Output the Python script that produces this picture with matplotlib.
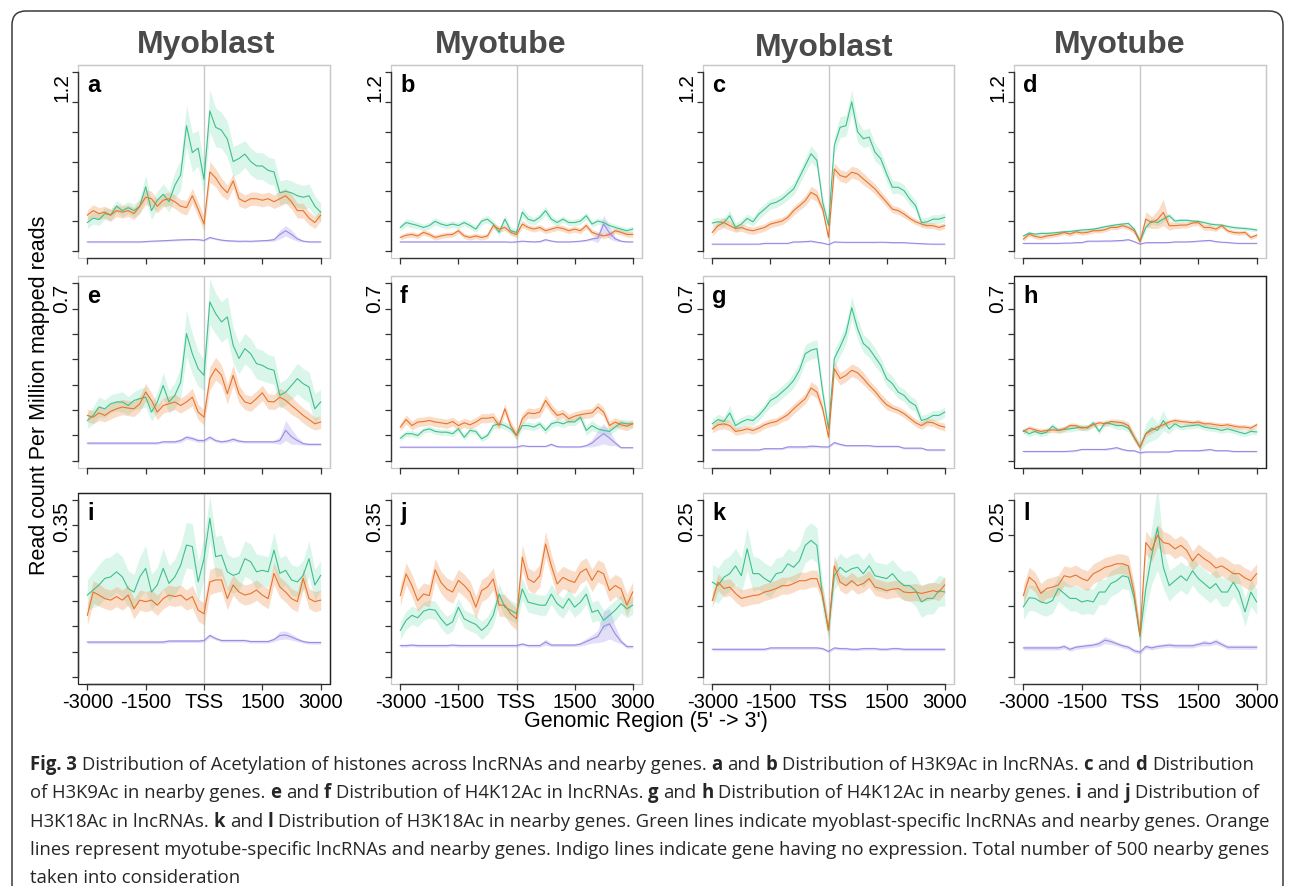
import numpy as np
import matplotlib
matplotlib.use("Agg")
import matplotlib.pyplot as plt
from matplotlib.patches import FancyBboxPatch, Rectangle
from matplotlib.transforms import IdentityTransform
from matplotlib import font_manager as fm

plt.rcParams['font.family'] = ['Liberation Sans', 'DejaVu Sans']

# ---------------- data ----------------
X = np.linspace(-3000, 3000, 41)
XTICKS = [-3000, -1500, 0, 1500, 3000]
XTICKLABELS = ['-3000', '-1500', 'TSS', '1500', '3000']
COL_TITLES = ['Myoblast', 'Myotube', 'Myoblast', 'Myotube']
LETTERS = list('abcdefghijkl')
YTOP = [1.2, 1.2, 1.2, 1.2, 0.7, 0.7, 0.7, 0.7, 0.35, 0.35, 0.25, 0.25]
YSTEP = [0.2, 0.2, 0.2, 0.2, 0.1, 0.1, 0.1, 0.1, 0.05, 0.05, 0.05, 0.05]

# panel a
G_a = [0.19,0.22,0.21,0.25,0.24,0.30,0.27,0.29,0.27,0.30,0.43,0.27,0.34,0.38,0.33,0.44,0.51,0.84,0.66,0.69,0.48,0.94,0.83,0.81,0.75,0.60,0.62,0.65,0.60,0.57,0.57,0.54,0.53,0.39,0.40,0.39,0.37,0.36,0.37,0.30,0.26]
O_a = [0.24,0.27,0.25,0.26,0.24,0.27,0.26,0.27,0.25,0.30,0.36,0.35,0.30,0.34,0.35,0.33,0.30,0.29,0.37,0.28,0.18,0.53,0.49,0.43,0.39,0.47,0.35,0.33,0.35,0.35,0.34,0.35,0.33,0.35,0.37,0.33,0.27,0.27,0.22,0.19,0.24]
I_a = [0.06,0.06,0.06,0.06,0.06,0.06,0.06,0.06,0.06,0.06,0.062,0.065,0.066,0.068,0.07,0.072,0.074,0.075,0.076,0.075,0.07,0.09,0.08,0.072,0.068,0.066,0.064,0.065,0.064,0.066,0.068,0.07,0.075,0.11,0.135,0.11,0.08,0.065,0.06,0.06,0.06]
GB_a = [0.04,0.04,0.04,0.04,0.04,0.04,0.04,0.04,0.045,0.05,0.08,0.06,0.06,0.07,0.07,0.09,0.1,0.14,0.13,0.12,0.1,0.14,0.13,0.12,0.12,0.1,0.1,0.09,0.09,0.09,0.09,0.09,0.09,0.08,0.08,0.08,0.08,0.08,0.08,0.07,0.06]
OB_a = [0.035,0.04,0.04,0.04,0.04,0.04,0.04,0.04,0.04,0.045,0.05,0.05,0.045,0.045,0.045,0.045,0.045,0.05,0.05,0.05,0.05,0.07,0.06,0.06,0.05,0.05,0.05,0.045,0.045,0.045,0.045,0.045,0.045,0.05,0.05,0.05,0.05,0.05,0.045,0.04,0.04]
IB_a = [0.005,0.005,0.005,0.005,0.005,0.005,0.005,0.005,0.005,0.005,0.005,0.005,0.005,0.006,0.006,0.006,0.006,0.006,0.006,0.006,0.006,0.008,0.006,0.006,0.006,0.006,0.006,0.006,0.006,0.006,0.006,0.008,0.01,0.03,0.035,0.03,0.015,0.006,0.005,0.005,0.005]

# panel b
G_b = [0.157,0.19,0.18,0.17,0.157,0.17,0.198,0.18,0.17,0.18,0.17,0.19,0.17,0.146,0.20,0.213,0.18,0.124,0.213,0.135,0.124,0.26,0.213,0.20,0.225,0.27,0.213,0.19,0.213,0.19,0.19,0.20,0.236,0.18,0.20,0.19,0.17,0.157,0.146,0.135,0.146]
O_b = [0.09,0.105,0.11,0.10,0.124,0.11,0.09,0.10,0.108,0.11,0.135,0.10,0.09,0.10,0.09,0.10,0.17,0.146,0.157,0.124,0.11,0.18,0.157,0.146,0.157,0.135,0.146,0.157,0.15,0.135,0.146,0.135,0.17,0.124,0.11,0.10,0.11,0.135,0.124,0.11,0.11]
I_b = [0.06,0.06,0.06,0.06,0.06,0.06,0.06,0.06,0.06,0.06,0.06,0.06,0.06,0.06,0.06,0.06,0.06,0.06,0.06,0.058,0.06,0.065,0.062,0.06,0.062,0.075,0.066,0.06,0.06,0.06,0.062,0.065,0.07,0.08,0.085,0.18,0.12,0.08,0.065,0.06,0.06]
GB_b = [0.022,0.025,0.025,0.022,0.022,0.022,0.025,0.022,0.022,0.022,0.022,0.022,0.022,0.022,0.025,0.025,0.025,0.025,0.03,0.025,0.025,0.035,0.03,0.025,0.025,0.03,0.025,0.022,0.022,0.022,0.022,0.022,0.025,0.022,0.022,0.022,0.022,0.02,0.02,0.02,0.02]
OB_b = [0.015,0.018,0.018,0.018,0.018,0.018,0.018,0.018,0.018,0.018,0.018,0.018,0.018,0.018,0.018,0.018,0.02,0.02,0.02,0.02,0.02,0.025,0.02,0.02,0.02,0.02,0.02,0.02,0.02,0.02,0.02,0.02,0.02,0.02,0.02,0.018,0.018,0.018,0.018,0.018,0.018]
IB_b = [0.004,0.004,0.004,0.004,0.004,0.004,0.004,0.004,0.004,0.004,0.004,0.004,0.004,0.004,0.004,0.004,0.004,0.004,0.004,0.004,0.004,0.005,0.004,0.004,0.005,0.008,0.005,0.004,0.004,0.004,0.004,0.005,0.006,0.01,0.03,0.06,0.04,0.015,0.005,0.004,0.004]

# panel c
G_c = [0.187,0.195,0.19,0.236,0.157,0.18,0.218,0.195,0.247,0.28,0.315,0.326,0.348,0.382,0.416,0.494,0.573,0.652,0.607,0.326,0.17,0.708,0.83,0.84,1.0,0.80,0.753,0.764,0.663,0.618,0.517,0.427,0.427,0.404,0.348,0.303,0.19,0.195,0.213,0.213,0.225]
O_c = [0.124,0.169,0.19,0.169,0.15,0.157,0.142,0.135,0.146,0.157,0.18,0.19,0.20,0.225,0.27,0.303,0.337,0.393,0.37,0.28,0.09,0.55,0.506,0.494,0.528,0.517,0.483,0.45,0.416,0.37,0.326,0.28,0.27,0.247,0.218,0.195,0.18,0.169,0.169,0.157,0.169]
I_c = [0.045,0.045,0.045,0.045,0.045,0.045,0.045,0.045,0.045,0.05,0.05,0.05,0.05,0.05,0.06,0.06,0.062,0.065,0.058,0.052,0.042,0.06,0.058,0.057,0.057,0.057,0.057,0.057,0.057,0.058,0.057,0.055,0.055,0.055,0.052,0.05,0.048,0.046,0.045,0.045,0.045]
GB_c = [0.03,0.03,0.03,0.04,0.03,0.03,0.03,0.03,0.035,0.035,0.035,0.035,0.035,0.04,0.04,0.045,0.05,0.055,0.05,0.04,0.03,0.06,0.07,0.07,0.08,0.07,0.06,0.06,0.06,0.05,0.05,0.045,0.04,0.04,0.04,0.035,0.03,0.03,0.03,0.03,0.03]
OB_c = [0.025,0.03,0.035,0.03,0.025,0.025,0.025,0.025,0.025,0.025,0.025,0.025,0.025,0.025,0.03,0.03,0.035,0.04,0.04,0.03,0.02,0.04,0.04,0.04,0.04,0.04,0.04,0.035,0.035,0.03,0.03,0.025,0.025,0.025,0.02,0.02,0.02,0.02,0.02,0.02,0.02]
IB_c = [0.004,0.004,0.004,0.004,0.004,0.004,0.004,0.004,0.004,0.004,0.004,0.004,0.004,0.004,0.005,0.005,0.005,0.006,0.005,0.004,0.004,0.005,0.004,0.004,0.004,0.004,0.004,0.004,0.004,0.004,0.004,0.004,0.004,0.004,0.004,0.004,0.004,0.004,0.004,0.004,0.004]

# panel d
G_d = [0.10,0.12,0.112,0.117,0.117,0.12,0.124,0.128,0.13,0.135,0.14,0.142,0.146,0.153,0.162,0.169,0.175,0.18,0.184,0.146,0.067,0.157,0.20,0.19,0.213,0.236,0.20,0.205,0.205,0.20,0.198,0.19,0.18,0.175,0.173,0.164,0.157,0.153,0.15,0.146,0.14]
O_d = [0.079,0.112,0.097,0.09,0.10,0.105,0.112,0.124,0.112,0.128,0.12,0.124,0.135,0.135,0.142,0.157,0.157,0.169,0.157,0.135,0.06,0.213,0.19,0.21,0.258,0.169,0.169,0.173,0.173,0.187,0.19,0.157,0.157,0.146,0.169,0.135,0.124,0.12,0.124,0.09,0.105]
I_d = [0.05,0.05,0.05,0.05,0.05,0.05,0.05,0.052,0.052,0.055,0.055,0.065,0.065,0.065,0.066,0.066,0.068,0.07,0.075,0.062,0.045,0.055,0.055,0.055,0.055,0.056,0.06,0.06,0.06,0.062,0.065,0.068,0.07,0.062,0.058,0.056,0.052,0.05,0.05,0.05,0.05]
GB_d = [0.012,0.012,0.012,0.012,0.012,0.012,0.012,0.012,0.012,0.012,0.012,0.012,0.012,0.012,0.012,0.012,0.012,0.012,0.012,0.014,0.015,0.02,0.02,0.02,0.02,0.02,0.015,0.015,0.012,0.012,0.012,0.012,0.012,0.012,0.012,0.012,0.012,0.012,0.012,0.012,0.012]
OB_d = [0.015,0.015,0.015,0.015,0.015,0.015,0.015,0.015,0.015,0.015,0.015,0.015,0.015,0.015,0.015,0.015,0.015,0.015,0.015,0.02,0.02,0.05,0.04,0.06,0.09,0.03,0.02,0.02,0.02,0.02,0.02,0.02,0.02,0.015,0.015,0.015,0.015,0.015,0.015,0.015,0.015]
IB_d = [0.004,0.004,0.004,0.004,0.004,0.004,0.004,0.004,0.004,0.004,0.004,0.005,0.005,0.005,0.005,0.005,0.006,0.006,0.006,0.005,0.004,0.004,0.004,0.004,0.004,0.004,0.004,0.004,0.004,0.005,0.005,0.006,0.006,0.005,0.004,0.004,0.004,0.004,0.004,0.004,0.004]

# panel e
G_e = [0.159,0.179,0.212,0.205,0.225,0.232,0.232,0.218,0.238,0.245,0.251,0.192,0.232,0.297,0.232,0.258,0.31,0.501,0.422,0.363,0.337,0.626,0.58,0.547,0.567,0.455,0.403,0.442,0.422,0.383,0.376,0.363,0.357,0.258,0.271,0.297,0.324,0.304,0.291,0.205,0.232]
O_e = [0.179,0.172,0.189,0.179,0.195,0.205,0.212,0.208,0.205,0.225,0.271,0.238,0.192,0.218,0.225,0.232,0.218,0.232,0.251,0.192,0.172,0.324,0.363,0.337,0.264,0.337,0.264,0.232,0.225,0.245,0.268,0.234,0.232,0.251,0.238,0.218,0.199,0.179,0.163,0.146,0.153]
I_e = [0.07,0.07,0.07,0.07,0.07,0.07,0.07,0.07,0.07,0.07,0.07,0.07,0.07,0.075,0.075,0.075,0.08,0.093,0.088,0.08,0.08,0.093,0.08,0.075,0.078,0.085,0.078,0.075,0.075,0.075,0.075,0.075,0.075,0.08,0.12,0.095,0.08,0.068,0.065,0.065,0.065]
GB_e = [0.03,0.035,0.04,0.035,0.035,0.035,0.04,0.035,0.035,0.04,0.04,0.035,0.04,0.05,0.045,0.05,0.06,0.09,0.08,0.07,0.06,0.09,0.08,0.08,0.08,0.07,0.06,0.06,0.06,0.06,0.06,0.055,0.055,0.05,0.05,0.055,0.06,0.06,0.06,0.06,0.05]
OB_e = [0.025,0.025,0.03,0.025,0.03,0.03,0.03,0.03,0.03,0.03,0.035,0.03,0.03,0.03,0.03,0.03,0.03,0.03,0.035,0.03,0.03,0.045,0.045,0.04,0.04,0.04,0.035,0.03,0.03,0.03,0.03,0.03,0.03,0.035,0.035,0.035,0.03,0.03,0.03,0.025,0.025]
IB_e = [0.005,0.005,0.005,0.005,0.005,0.005,0.005,0.005,0.005,0.005,0.005,0.005,0.005,0.005,0.006,0.006,0.008,0.008,0.008,0.008,0.006,0.008,0.006,0.006,0.006,0.008,0.006,0.005,0.005,0.005,0.005,0.005,0.006,0.015,0.04,0.03,0.015,0.006,0.005,0.005,0.005]

# panel f
G_f = [0.089,0.107,0.107,0.10,0.12,0.126,0.116,0.113,0.113,0.107,0.126,0.093,0.12,0.116,0.087,0.10,0.139,0.146,0.139,0.126,0.10,0.139,0.139,0.133,0.146,0.12,0.146,0.153,0.146,0.155,0.153,0.172,0.12,0.139,0.126,0.12,0.116,0.133,0.15,0.146,0.146]
O_f = [0.133,0.163,0.139,0.153,0.155,0.159,0.153,0.15,0.146,0.155,0.139,0.15,0.142,0.153,0.168,0.168,0.172,0.139,0.205,0.139,0.10,0.166,0.189,0.186,0.192,0.238,0.205,0.179,0.186,0.166,0.176,0.182,0.186,0.189,0.212,0.192,0.139,0.153,0.142,0.137,0.146]
I_f = [0.054,0.054,0.054,0.054,0.054,0.054,0.054,0.054,0.054,0.054,0.054,0.054,0.054,0.054,0.054,0.054,0.054,0.054,0.054,0.054,0.054,0.06,0.057,0.057,0.057,0.057,0.065,0.056,0.055,0.055,0.055,0.055,0.06,0.07,0.09,0.107,0.09,0.07,0.052,0.052,0.052]
GB_f = [0.012,0.012,0.012,0.012,0.012,0.012,0.012,0.012,0.012,0.012,0.012,0.012,0.012,0.012,0.012,0.012,0.015,0.015,0.015,0.015,0.015,0.015,0.015,0.015,0.015,0.015,0.015,0.015,0.015,0.015,0.015,0.015,0.02,0.02,0.015,0.015,0.015,0.015,0.015,0.015,0.012]
OB_f = [0.016,0.018,0.018,0.018,0.018,0.018,0.018,0.018,0.018,0.018,0.018,0.018,0.018,0.018,0.018,0.018,0.018,0.018,0.02,0.018,0.018,0.02,0.02,0.02,0.02,0.022,0.02,0.018,0.018,0.018,0.018,0.018,0.018,0.018,0.02,0.018,0.018,0.018,0.018,0.018,0.016]
IB_f = [0.003,0.003,0.003,0.003,0.003,0.003,0.003,0.003,0.003,0.003,0.003,0.003,0.003,0.003,0.003,0.003,0.003,0.003,0.003,0.003,0.003,0.004,0.003,0.003,0.003,0.003,0.005,0.003,0.003,0.003,0.003,0.003,0.005,0.015,0.03,0.04,0.03,0.01,0.003,0.003,0.003]

# panel g
G_g = [0.146,0.163,0.155,0.189,0.139,0.153,0.163,0.159,0.179,0.205,0.238,0.251,0.271,0.291,0.317,0.357,0.422,0.436,0.442,0.271,0.126,0.403,0.449,0.501,0.603,0.521,0.462,0.442,0.409,0.376,0.324,0.304,0.271,0.258,0.232,0.218,0.159,0.166,0.179,0.179,0.192]
O_g = [0.126,0.142,0.146,0.139,0.116,0.12,0.126,0.12,0.129,0.142,0.15,0.155,0.168,0.182,0.205,0.225,0.245,0.287,0.271,0.205,0.093,0.363,0.324,0.337,0.357,0.347,0.324,0.297,0.274,0.245,0.221,0.208,0.199,0.186,0.168,0.15,0.139,0.153,0.15,0.139,0.133]
I_g = [0.043,0.043,0.043,0.043,0.043,0.043,0.043,0.043,0.043,0.048,0.048,0.048,0.048,0.055,0.055,0.055,0.055,0.058,0.057,0.055,0.055,0.072,0.065,0.06,0.06,0.06,0.06,0.06,0.057,0.057,0.057,0.057,0.057,0.05,0.05,0.05,0.05,0.043,0.043,0.043,0.043]
GB_g = [0.02,0.02,0.02,0.03,0.02,0.02,0.02,0.02,0.02,0.02,0.025,0.025,0.025,0.025,0.03,0.03,0.035,0.035,0.035,0.03,0.02,0.035,0.035,0.04,0.045,0.04,0.035,0.035,0.035,0.03,0.03,0.03,0.025,0.025,0.025,0.025,0.02,0.02,0.02,0.02,0.02]
OB_g = [0.015,0.02,0.02,0.02,0.015,0.015,0.015,0.015,0.015,0.015,0.015,0.015,0.015,0.02,0.02,0.02,0.02,0.025,0.025,0.02,0.015,0.03,0.025,0.025,0.025,0.025,0.025,0.02,0.02,0.02,0.02,0.015,0.015,0.015,0.015,0.015,0.015,0.015,0.015,0.015,0.015]
IB_g = [0.004,0.004,0.004,0.004,0.004,0.004,0.004,0.004,0.004,0.004,0.004,0.004,0.004,0.005,0.005,0.005,0.005,0.006,0.005,0.004,0.004,0.005,0.005,0.004,0.004,0.004,0.004,0.004,0.004,0.004,0.004,0.004,0.004,0.004,0.004,0.004,0.004,0.004,0.004,0.004,0.004]

# panel h
G_h = [0.12,0.107,0.116,0.107,0.113,0.137,0.12,0.124,0.126,0.13,0.133,0.129,0.15,0.116,0.15,0.146,0.139,0.139,0.129,0.093,0.054,0.107,0.129,0.12,0.159,0.126,0.146,0.133,0.137,0.139,0.142,0.133,0.129,0.126,0.12,0.126,0.12,0.113,0.107,0.116,0.114]
O_h = [0.116,0.129,0.122,0.116,0.12,0.122,0.12,0.126,0.139,0.139,0.129,0.133,0.142,0.15,0.146,0.155,0.153,0.15,0.139,0.093,0.054,0.107,0.12,0.133,0.142,0.153,0.159,0.155,0.153,0.15,0.153,0.146,0.146,0.142,0.139,0.142,0.137,0.133,0.133,0.129,0.142]
I_h = [0.037,0.037,0.037,0.037,0.037,0.037,0.037,0.037,0.038,0.04,0.045,0.045,0.045,0.045,0.045,0.048,0.052,0.045,0.04,0.04,0.032,0.035,0.035,0.035,0.035,0.035,0.04,0.04,0.04,0.04,0.04,0.042,0.045,0.04,0.04,0.04,0.037,0.037,0.037,0.037,0.037]
GB_h = [0.012,0.012,0.012,0.012,0.012,0.012,0.012,0.012,0.012,0.012,0.012,0.012,0.012,0.012,0.012,0.012,0.015,0.015,0.015,0.015,0.015,0.04,0.05,0.03,0.04,0.02,0.015,0.012,0.012,0.012,0.012,0.012,0.012,0.012,0.012,0.012,0.012,0.012,0.012,0.012,0.012]
OB_h = [0.01,0.01,0.01,0.01,0.01,0.01,0.01,0.01,0.01,0.01,0.01,0.01,0.01,0.01,0.01,0.01,0.012,0.012,0.015,0.015,0.012,0.012,0.012,0.01,0.01,0.01,0.01,0.01,0.01,0.01,0.01,0.01,0.01,0.01,0.01,0.01,0.01,0.01,0.01,0.01,0.01]
IB_h = [0.003,0.003,0.003,0.003,0.003,0.003,0.003,0.003,0.003,0.003,0.003,0.003,0.003,0.003,0.004,0.004,0.005,0.004,0.003,0.003,0.003,0.003,0.003,0.003,0.003,0.003,0.003,0.003,0.003,0.003,0.004,0.004,0.004,0.003,0.003,0.003,0.003,0.003,0.003,0.003,0.003]

# panel i
G_i = [0.162,0.172,0.182,0.195,0.198,0.208,0.198,0.175,0.168,0.198,0.215,0.168,0.182,0.215,0.185,0.198,0.221,0.261,0.258,0.188,0.234,0.314,0.238,0.241,0.208,0.201,0.205,0.234,0.228,0.208,0.211,0.208,0.251,0.205,0.211,0.192,0.188,0.201,0.234,0.182,0.201]
O_i = [0.122,0.168,0.162,0.155,0.152,0.159,0.152,0.162,0.135,0.152,0.149,0.152,0.142,0.155,0.162,0.159,0.162,0.152,0.159,0.132,0.125,0.188,0.192,0.192,0.155,0.182,0.168,0.162,0.165,0.172,0.162,0.155,0.205,0.178,0.168,0.155,0.149,0.195,0.155,0.149,0.152]
I_i = [0.069,0.069,0.069,0.069,0.069,0.069,0.069,0.069,0.069,0.069,0.069,0.069,0.069,0.069,0.071,0.071,0.071,0.071,0.071,0.071,0.072,0.082,0.076,0.072,0.072,0.072,0.072,0.072,0.07,0.07,0.07,0.07,0.074,0.082,0.083,0.079,0.074,0.07,0.068,0.068,0.068]
GB_i = [0.03,0.035,0.04,0.04,0.04,0.04,0.04,0.035,0.035,0.04,0.045,0.035,0.035,0.04,0.035,0.035,0.04,0.045,0.045,0.04,0.04,0.045,0.04,0.04,0.035,0.035,0.035,0.035,0.035,0.035,0.03,0.03,0.035,0.03,0.03,0.03,0.03,0.03,0.035,0.03,0.03]
OB_i = [0.02,0.022,0.022,0.02,0.02,0.02,0.02,0.02,0.02,0.02,0.02,0.02,0.02,0.02,0.02,0.02,0.02,0.02,0.022,0.022,0.022,0.025,0.025,0.022,0.022,0.02,0.02,0.02,0.02,0.02,0.02,0.02,0.022,0.02,0.02,0.02,0.02,0.02,0.02,0.02,0.02]
IB_i = [0.003,0.003,0.003,0.003,0.003,0.003,0.003,0.003,0.003,0.003,0.003,0.003,0.003,0.003,0.003,0.003,0.003,0.003,0.003,0.003,0.003,0.004,0.003,0.003,0.003,0.003,0.003,0.003,0.003,0.003,0.003,0.003,0.004,0.008,0.008,0.006,0.004,0.003,0.003,0.003,0.003]

# panel j
G_j = [0.092,0.112,0.122,0.117,0.13,0.134,0.132,0.115,0.102,0.109,0.138,0.115,0.109,0.104,0.092,0.102,0.122,0.164,0.138,0.132,0.125,0.174,0.148,0.145,0.142,0.142,0.164,0.145,0.136,0.155,0.138,0.148,0.164,0.128,0.132,0.112,0.122,0.132,0.145,0.135,0.142]
O_j = [0.161,0.204,0.181,0.151,0.164,0.161,0.212,0.187,0.174,0.168,0.191,0.181,0.168,0.138,0.171,0.178,0.194,0.142,0.142,0.125,0.115,0.237,0.194,0.187,0.20,0.263,0.22,0.184,0.197,0.191,0.187,0.207,0.214,0.191,0.21,0.204,0.171,0.181,0.174,0.142,0.168]
I_j = [0.062,0.062,0.063,0.062,0.062,0.062,0.062,0.062,0.062,0.063,0.062,0.062,0.062,0.062,0.062,0.062,0.062,0.062,0.062,0.062,0.062,0.065,0.062,0.062,0.062,0.069,0.063,0.063,0.063,0.063,0.063,0.065,0.07,0.075,0.08,0.1,0.105,0.085,0.07,0.06,0.06]
GB_j = [0.018,0.018,0.018,0.018,0.018,0.018,0.018,0.018,0.018,0.018,0.018,0.018,0.018,0.018,0.018,0.018,0.02,0.02,0.02,0.02,0.02,0.022,0.02,0.02,0.02,0.02,0.02,0.02,0.02,0.02,0.02,0.02,0.02,0.02,0.02,0.02,0.02,0.02,0.018,0.018,0.018]
OB_j = [0.02,0.022,0.022,0.022,0.022,0.022,0.022,0.022,0.022,0.022,0.022,0.022,0.022,0.022,0.022,0.022,0.022,0.022,0.022,0.022,0.022,0.025,0.022,0.022,0.022,0.025,0.022,0.022,0.022,0.022,0.022,0.022,0.022,0.022,0.022,0.022,0.022,0.022,0.022,0.022,0.02]
IB_j = [0.003,0.003,0.003,0.003,0.003,0.003,0.003,0.003,0.003,0.003,0.003,0.003,0.003,0.003,0.003,0.003,0.003,0.003,0.003,0.003,0.003,0.003,0.003,0.003,0.003,0.006,0.003,0.003,0.003,0.003,0.003,0.004,0.006,0.008,0.012,0.03,0.03,0.015,0.005,0.003,0.003]

# panel k
G_k = [0.134,0.129,0.141,0.146,0.157,0.143,0.181,0.146,0.146,0.139,0.134,0.146,0.148,0.16,0.155,0.164,0.186,0.193,0.186,0.111,0.066,0.143,0.155,0.148,0.153,0.155,0.146,0.157,0.143,0.141,0.139,0.146,0.136,0.129,0.129,0.122,0.106,0.111,0.111,0.122,0.12]
O_k = [0.108,0.134,0.125,0.127,0.118,0.111,0.113,0.115,0.116,0.12,0.122,0.125,0.129,0.129,0.132,0.136,0.136,0.139,0.139,0.115,0.066,0.157,0.134,0.129,0.136,0.129,0.132,0.139,0.127,0.125,0.122,0.124,0.125,0.12,0.119,0.12,0.118,0.12,0.122,0.12,0.13]
I_k = [0.039,0.039,0.039,0.039,0.039,0.039,0.039,0.039,0.039,0.039,0.041,0.041,0.041,0.041,0.041,0.041,0.041,0.041,0.041,0.04,0.036,0.041,0.04,0.04,0.039,0.039,0.04,0.04,0.04,0.039,0.039,0.04,0.04,0.039,0.039,0.039,0.039,0.039,0.039,0.039,0.039]
GB_k = [0.025,0.025,0.025,0.025,0.025,0.025,0.03,0.025,0.022,0.022,0.022,0.022,0.022,0.022,0.022,0.022,0.025,0.025,0.025,0.02,0.015,0.02,0.02,0.02,0.02,0.02,0.02,0.02,0.02,0.02,0.02,0.02,0.02,0.02,0.022,0.022,0.022,0.022,0.022,0.022,0.02]
OB_k = [0.01,0.012,0.012,0.012,0.012,0.012,0.012,0.012,0.012,0.012,0.012,0.012,0.012,0.012,0.012,0.012,0.012,0.012,0.012,0.012,0.01,0.015,0.012,0.012,0.012,0.012,0.012,0.012,0.012,0.012,0.012,0.012,0.012,0.012,0.012,0.012,0.012,0.012,0.012,0.012,0.012]
IB_k = [0.002,0.002,0.002,0.002,0.002,0.002,0.002,0.002,0.002,0.002,0.002,0.002,0.002,0.002,0.002,0.002,0.002,0.002,0.002,0.002,0.002,0.002,0.002,0.002,0.002,0.002,0.002,0.002,0.002,0.002,0.002,0.002,0.002,0.002,0.002,0.002,0.002,0.002,0.002,0.002,0.002]

# panel l
G_l = [0.099,0.112,0.111,0.106,0.104,0.108,0.125,0.118,0.111,0.111,0.106,0.108,0.106,0.12,0.12,0.132,0.136,0.143,0.141,0.111,0.057,0.125,0.171,0.211,0.155,0.129,0.136,0.143,0.136,0.15,0.139,0.132,0.125,0.132,0.12,0.12,0.134,0.12,0.092,0.12,0.106]
O_l = [0.115,0.141,0.134,0.118,0.125,0.127,0.13,0.143,0.141,0.144,0.139,0.136,0.146,0.15,0.155,0.157,0.16,0.16,0.157,0.118,0.059,0.19,0.179,0.2,0.19,0.188,0.181,0.186,0.179,0.164,0.174,0.167,0.162,0.154,0.157,0.152,0.146,0.146,0.14,0.136,0.146]
I_l = [0.041,0.041,0.041,0.041,0.041,0.041,0.041,0.043,0.039,0.042,0.043,0.044,0.045,0.047,0.052,0.05,0.047,0.044,0.042,0.037,0.035,0.043,0.041,0.043,0.044,0.045,0.044,0.044,0.044,0.044,0.046,0.048,0.047,0.05,0.046,0.042,0.042,0.042,0.042,0.042,0.042]
GB_l = [0.018,0.018,0.018,0.018,0.018,0.018,0.018,0.018,0.018,0.018,0.018,0.018,0.018,0.018,0.018,0.018,0.018,0.018,0.018,0.018,0.012,0.03,0.04,0.06,0.03,0.022,0.02,0.02,0.02,0.02,0.02,0.02,0.02,0.02,0.02,0.02,0.02,0.02,0.02,0.02,0.018]
OB_l = [0.014,0.014,0.014,0.014,0.014,0.014,0.014,0.014,0.014,0.014,0.014,0.014,0.014,0.014,0.014,0.014,0.014,0.014,0.014,0.014,0.012,0.016,0.016,0.016,0.016,0.014,0.014,0.014,0.014,0.014,0.014,0.014,0.014,0.014,0.014,0.014,0.014,0.014,0.014,0.014,0.014]
IB_l = [0.003,0.003,0.003,0.003,0.003,0.003,0.003,0.003,0.003,0.003,0.003,0.003,0.003,0.004,0.005,0.004,0.003,0.003,0.003,0.003,0.003,0.003,0.003,0.003,0.003,0.003,0.003,0.003,0.003,0.003,0.003,0.004,0.003,0.004,0.003,0.003,0.003,0.003,0.003,0.003,0.003]

CAPTION = [
    [("Fig. 3", True), (" Distribution of Acetylation of histones across lncRNAs and nearby genes. ", False), ("a", True), (" and ", False), ("b", True), (" Distribution of H3K9Ac in lncRNAs. ", False), ("c", True), (" and ", False), ("d", True), (" Distribution", False)],
    [("of H3K9Ac in nearby genes. ", False), ("e", True), (" and ", False), ("f", True), (" Distribution of H4K12Ac in lncRNAs. ", False), ("g", True), (" and ", False), ("h", True), (" Distribution of H4K12Ac in nearby genes. ", False), ("i", True), (" and ", False), ("j", True), (" Distribution of", False)],
    [("H3K18Ac in lncRNAs. ", False), ("k", True), (" and ", False), ("l", True), (" Distribution of H3K18Ac in nearby genes. Green lines indicate myoblast-specific lncRNAs and nearby genes. Orange", False)],
    [("lines represent myotube-specific lncRNAs and nearby genes. Indigo lines indicate gene having no expression. Total number of 500 nearby genes", False)],
    [("taken into consideration", False)],
]

# ---------------- layout / style ----------------
W, H = 1295, 887
COLS = [(78, 330), (391, 642), (703, 954), (1014, 1266)]
ROWS = [(66, 259), (277, 469), (494, 685)]
TITLE_POS = [(206, 45), (501, 45), (824, 48), (1120, 45)]
GREEN, ORANGE, INDIGO = '#3fbf8c', '#e8742c', '#9a8be2'
GREEN_F, ORANGE_F, INDIGO_F = '#57d6a4', '#f0904a', '#a898ee'
DARK_BOX = {'h', 'i'}

greens = [G_a, G_b, G_c, G_d, G_e, G_f, G_g, G_h, G_i, G_j, G_k, G_l]
oranges = [O_a, O_b, O_c, O_d, O_e, O_f, O_g, O_h, O_i, O_j, O_k, O_l]
indigos = [I_a, I_b, I_c, I_d, I_e, I_f, I_g, I_h, I_i, I_j, I_k, I_l]
gbands = [GB_a, GB_b, GB_c, GB_d, GB_e, GB_f, GB_g, GB_h, GB_i, GB_j, GB_k, GB_l]
obands = [OB_a, OB_b, OB_c, OB_d, OB_e, OB_f, OB_g, OB_h, OB_i, OB_j, OB_k, OB_l]
ibands = [IB_a, IB_b, IB_c, IB_d, IB_e, IB_f, IB_g, IB_h, IB_i, IB_j, IB_k, IB_l]

fig = plt.figure(figsize=(W / 100, H / 100), dpi=100)
fig.patch.set_facecolor('white')

# rounded frame
frame = FancyBboxPatch((12, -12), 1271, 887, boxstyle='round,pad=0,rounding_size=14',
                       transform=IdentityTransform(), facecolor='none', edgecolor='#3a3a3a', linewidth=1.1)
fig.add_artist(frame)

for k in range(12):
    r, c = divmod(k, 4)
    x0, x1 = COLS[c]
    y0, y1 = ROWS[r]
    ax = fig.add_axes([x0 / W, 1 - y1 / H, (x1 - x0) / W, (y1 - y0) / H])
    top = YTOP[k]
    ax.set_xlim(-3240, 3240)
    ax.set_ylim(-0.04 * top, 1.04 * top)
    ax.set_facecolor('white')

    ax.axvline(0, color='#c8c8c8', lw=1.0, zorder=1)
    for vals, band, lc, fc, al in [(greens[k], gbands[k], GREEN, GREEN_F, 0.22),
                                   (oranges[k], obands[k], ORANGE, ORANGE_F, 0.3),
                                   (indigos[k], ibands[k], INDIGO, INDIGO_F, 0.3)]:
        v = np.array(vals)
        b = np.array(band)
        ax.fill_between(X, v - b, v + b, color=fc, alpha=al, lw=0, zorder=2)
        ax.plot(X, v, color=lc, lw=0.8, zorder=3)

    edge = '#222222' if LETTERS[k] in DARK_BOX else '#c8c8c8'
    for s in ['top', 'right']:
        ax.spines[s].set_color(edge)
        ax.spines[s].set_linewidth(0.9)
    ax.add_patch(Rectangle((0, 0), 1, 1, transform=ax.transAxes, fill=False,
                           edgecolor=edge, lw=0.9, zorder=0.5, clip_on=False))
    ax.spines['left'].set_color('#333333')
    ax.spines['bottom'].set_color('#333333')
    ax.spines['left'].set_linewidth(1.0)
    ax.spines['bottom'].set_linewidth(1.0)
    ax.spines['left'].set_bounds(0, top)
    ax.spines['bottom'].set_bounds(-3000, 3000)

    yt = np.arange(0, top + YSTEP[k] / 2, YSTEP[k])
    ax.set_yticks(yt)
    ylabels = [''] * (len(yt) - 1) + [f'{top:g}']
    ax.set_yticklabels(ylabels, rotation=90, va='top', fontsize=15)
    ax.set_xticks(XTICKS)
    if r == 2:
        ax.set_xticklabels(XTICKLABELS, fontsize=14.5)
    else:
        ax.set_xticklabels([''] * len(XTICKS))
    ax.tick_params(axis='both', direction='out', length=4, width=0.9, color='#333333', pad=1)
    ax.tick_params(axis='x', pad=2)

    ax.text(9 / (x1 - x0), 1 - 26 / (y1 - y0), LETTERS[k], transform=ax.transAxes,
            fontsize=17, fontweight='bold', ha='left', va='baseline', color='black')

for (tx, ty), title in zip(TITLE_POS, COL_TITLES):
    fig.text(tx / W, 1 - ty / H, title, fontsize=23, fontweight='bold', color='#4a4a4a',
             ha='center', va='center')

fig.text(40 / W, 1 - 395 / H, 'Read count Per Million mapped reads', rotation=90,
         fontsize=15.5, ha='center', va='center', color='black')
fig.text(646 / W, 1 - 722 / H, "Genomic Region (5' -> 3')", fontsize=15.5,
         ha='center', va='center', color='black')

# ---------------- caption ----------------
def has_font(name):
    try:
        fm.findfont(fm.FontProperties(family=name), fallback_to_default=False)
        return True
    except Exception:
        return False

cap_family = ['Liberation Sans Narrow'] if has_font('Liberation Sans Narrow') else ['Open Sans']
renderer = fig.canvas.get_renderer()

def text_width(s, size, bold):
    t = fig.text(0, 0, s, fontsize=size, fontweight='bold' if bold else 'normal', family=cap_family)
    w = t.get_window_extent(renderer).width
    t.remove()
    return w

def draw_caption(size, draw=True):
    sw = text_width('x x', size, False) - text_width('xx', size, False)
    ys = [765, 793, 822, 850, 878]
    widths = []
    for segs, y in zip(CAPTION, ys):
        x = 30.0
        for s, bold in segs:
            lead = len(s) - len(s.lstrip(' '))
            trail = len(s) - len(s.rstrip(' '))
            core = s.strip(' ')
            x += lead * sw
            if draw:
                t = fig.text(x / W, 1 - y / H, core, fontsize=size,
                             fontweight='bold' if bold else 'normal', family=cap_family,
                             ha='left', va='center', color='#262626')
                w = t.get_window_extent(renderer).width
            else:
                w = text_width(core, size, bold)
            x += w + trail * sw
        widths.append(x - 30.0)
    return widths

w0 = draw_caption(12, draw=False)
size = 12 * 1238.0 / max(w0)
draw_caption(size, draw=True)

fig.savefig('out.png', dpi=100, facecolor='white')
